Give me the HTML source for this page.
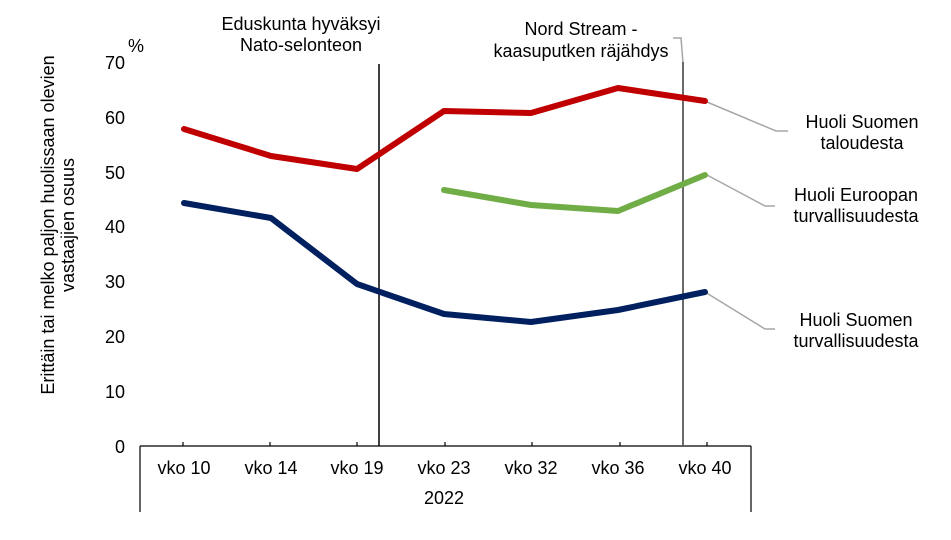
<!DOCTYPE html>
<html><head><meta charset="utf-8"><style>
body{margin:0;background:#fff}
svg text{font-family:"Liberation Sans",Arial,sans-serif;font-size:18px;fill:#000}
</style></head><body>
<svg width="951" height="535" viewBox="0 0 951 535" xmlns="http://www.w3.org/2000/svg">
<g text-anchor="end">
<text x="125" y="453">0</text><text x="125" y="398">10</text><text x="125" y="343">20</text>
<text x="125" y="288">30</text><text x="125" y="233">40</text><text x="125" y="179">50</text>
<text x="125" y="124">60</text><text x="125" y="69">70</text>
</g>
<text x="128" y="52">%</text>
<g transform="translate(54,225) rotate(-90)" text-anchor="middle">
<text x="0" y="0">Erittäin tai melko paljon huolissaan olevien</text>
<text x="0" y="20">vastaajien osuus</text>
</g>
<g stroke="#000" stroke-width="1.2" fill="none">
<line x1="140" y1="446" x2="751" y2="446"/>
<line x1="140" y1="446" x2="140" y2="512"/>
<line x1="751" y1="446" x2="751" y2="512"/>
<path d="M183 446v-4M270 446v-4M357 446v-4M445 446v-4M532 446v-4M620 446v-4M707 446v-4"/>
</g>
<g text-anchor="middle">
<text x="184" y="474">vko 10</text><text x="271" y="474">vko 14</text><text x="357" y="474">vko 19</text>
<text x="444" y="474">vko 23</text><text x="531" y="474">vko 32</text><text x="618" y="474">vko 36</text>
<text x="705" y="474">vko 40</text><text x="444" y="504">2022</text>
<text x="301" y="30">Eduskunta hyväksyi</text><text x="301" y="51">Nato-selonteon</text>
<text x="581" y="35">Nord Stream -</text><text x="581" y="57">kaasuputken räjähdys</text>
<text x="862" y="128">Huoli Suomen</text><text x="862" y="149">taloudesta</text>
<text x="856" y="201">Huoli Euroopan</text><text x="856" y="222">turvallisuudesta</text>
<text x="856" y="326">Huoli Suomen</text><text x="856" y="347">turvallisuudesta</text>
</g>
<g stroke="#a6a6a6" stroke-width="1.5" fill="none">
<polyline points="707,102 776,131 788,131"/>
<polyline points="707,175 765,206 775,206"/>
<polyline points="705,292 765,329 775,329"/>
<polyline points="673,38 681,38 683,63"/>
</g>
<line x1="379" y1="64" x2="379" y2="446" stroke="#000" stroke-width="1.5"/>
<line x1="683" y1="62" x2="683" y2="446" stroke="#595959" stroke-width="1.8"/>
<g fill="none" stroke-width="6" stroke-linejoin="round" stroke-linecap="round">
<polyline stroke="#c00000" points="184,129 271,156 357,169 444,111 531,113 618,88 705,101"/>
<polyline stroke="#70ad47" points="444,190 531,205 618,211 705,175"/>
<polyline stroke="#002060" points="184,203 271,218 357,284 444,314 531,322 618,310 705,292"/>
</g>
</svg>
</body></html>
